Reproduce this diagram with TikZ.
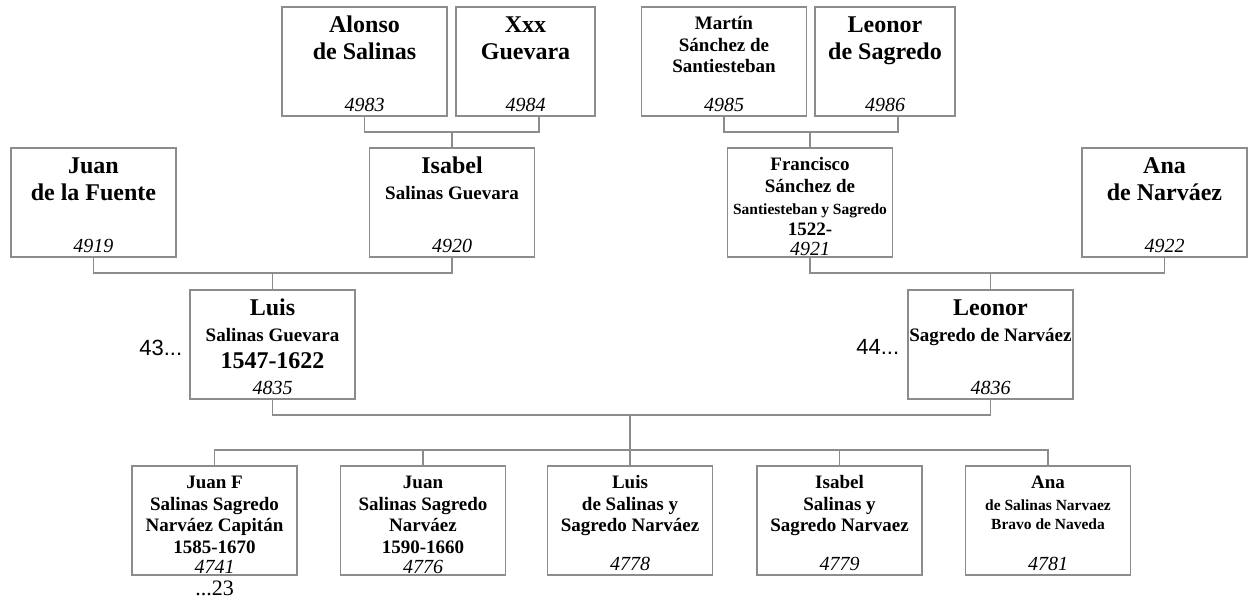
\documentclass[tikz,border=0pt]{standalone}
\usepackage{fontspec}
\setmainfont{Liberation Serif}
\newfontfamily\sansf{Liberation Sans}
\definecolor{edge}{HTML}{8C8C8C}
\definecolor{ink}{HTML}{000000}
% name lines: big, medium, medium under a big line, small; record number
\newcommand{\bigf}{\fontsize{24}{27.5}\selectfont\bfseries\rule{0pt}{16.5pt}}
\newcommand{\midf}{\fontsize{19}{21.5}\selectfont\bfseries\rule{0pt}{14pt}}
\newcommand{\subf}{\fontsize{19}{26}\selectfont\bfseries}
\newcommand{\smlf}{\fontsize{15.5}{22}\selectfont\bfseries}
\newcommand{\numf}{\fontsize{20}{20}\selectfont\mdseries\itshape}
\newcommand{\card}[3][165pt]{\parbox[c][109pt][t]{#1}{\centering\vspace*{8.5pt}#2\par\vfill{\numf #3\par}\vspace*{4pt}}}
\tikzset{
  person/.style={draw=edge, line width=1.3pt, fill=white, inner sep=0pt, text=ink},
  link/.style={draw=edge, line width=1.3pt},
  tag/.style={font=\sansf\fontsize{22}{24}\selectfont, inner sep=0pt, text=ink}
}
\begin{document}
\begin{tikzpicture}[x=1pt,y=-1pt]
  \useasboundingbox (0,0) rectangle (1248,600);

  % great-grandparents
  \node[person] (alonso) at (364.5,61.5) {\card{\bigf Alonso\par de Salinas}{4983}};
  \node[person] (xxx) at (525.5,61.5) {\card[139pt]{\bigf Xxx\par Guevara}{4984}};
  \node[person] (martin) at (724,61.5) {\card{\midf Martín\par Sánchez de\par Santiesteban}{4985}};
  \node[person] (sagredo) at (885,61.5) {\card[140pt]{\bigf Leonor\par de Sagredo}{4986}};

  % grandparents
  \node[person] (fuente) at (93.5,202.5) {\card{\bigf Juan\par de la Fuente}{4919}};
  \node[person] (isabel) at (452,202.5) {\card{{\bigf Isabel\par}{\subf Salinas Guevara\par}}{4920}};
  \node[person] (francisco) at (810,202.5)
    {\card{{\midf Francisco\par Sánchez de\par}{\smlf Santiesteban y Sagredo\par}{\midf 1522-\par}}{4921}};
  \node[person] (narvaez) at (1164.5,202.5) {\card{\bigf Ana\par de Narváez}{4922}};

  % parents
  \node[person] (luis) at (272.5,344.5)
    {\card{{\bigf Luis\par}{\subf Salinas Guevara\par}{\bigf 1547-1622\par}}{4835}};
  \node[person] (leonor) at (990.5,344.5) {\card{{\bigf Leonor\par}{\subf Sagredo de Narváez\par}}{4836}};
  \node[tag, anchor=east] (gen43) at ([xshift=-7pt,yshift=-3.5pt]luis.west) {43...};
  \node[tag, anchor=east] (gen44) at ([xshift=-8pt,yshift=-2.5pt]leonor.west) {44...};

  % children
  \node[person] (juanf) at (214.5,520.5) {\card{\midf Juan F\par Salinas Sagredo\par Narváez Capitán\par 1585-1670}{4741}};
  \node[person] (juan) at (423,520.5) {\card{\midf Juan\par Salinas Sagredo\par Narváez\par 1590-1660}{4776}};
  \node[person] (luisjr) at (630,520.5) {\card{\midf Luis\par de Salinas y\par Sagredo Narváez}{4778}};
  \node[person] (isabeljr) at (839.5,520.5) {\card{\midf Isabel\par Salinas y\par Sagredo Narvaez}{4779}};
  \node[person] (anajr) at (1048,520.5)
    {\card{{\midf Ana\par}{\smlf de Salinas Narvaez\par\fontsize{15.5}{18.5}\selectfont Bravo de Naveda\par}}{4781}};
  \node[tag, font=\fontsize{22}{24}\selectfont, anchor=north] (gen23) at ([yshift=-5pt]juanf.south) {...23};

  % couple bars
  \coordinate (bar1) at (0,132);
  \coordinate (bar2) at (0,273);
  \coordinate (bar3) at (0,415);
  \coordinate (bar4) at (0,450);

  \draw[link] (alonso.south) |- ([xshift=13.5pt]xxx.south |- bar1) -- ([xshift=13.5pt]xxx.south);
  \draw[link] (isabel.north) -- (isabel.north |- bar1);
  \draw[link] (martin.south) |- ([xshift=13pt]sagredo.south |- bar1) -- ([xshift=13pt]sagredo.south);
  \draw[link] (francisco.north) -- (francisco.north |- bar1);
  \draw[link] (fuente.south) |- (isabel.south |- bar2) -- (isabel.south);
  \draw[link] (luis.north) -- (luis.north |- bar2);
  \draw[link] (francisco.south) |- (narvaez.south |- bar2) -- (narvaez.south);
  \draw[link] (leonor.north) -- (leonor.north |- bar2);
  \draw[link] (luis.south) |- (leonor.south |- bar3) -- (leonor.south);
  \draw[link] (luisjr.north |- bar3) -- (luisjr.north);
  \draw[link] (juanf.north) |- (anajr.north |- bar4) -- (anajr.north);
  \foreach \kid in {juan,isabeljr}
    \draw[link] (\kid.north) -- (\kid.north |- bar4);
\end{tikzpicture}
\end{document}
